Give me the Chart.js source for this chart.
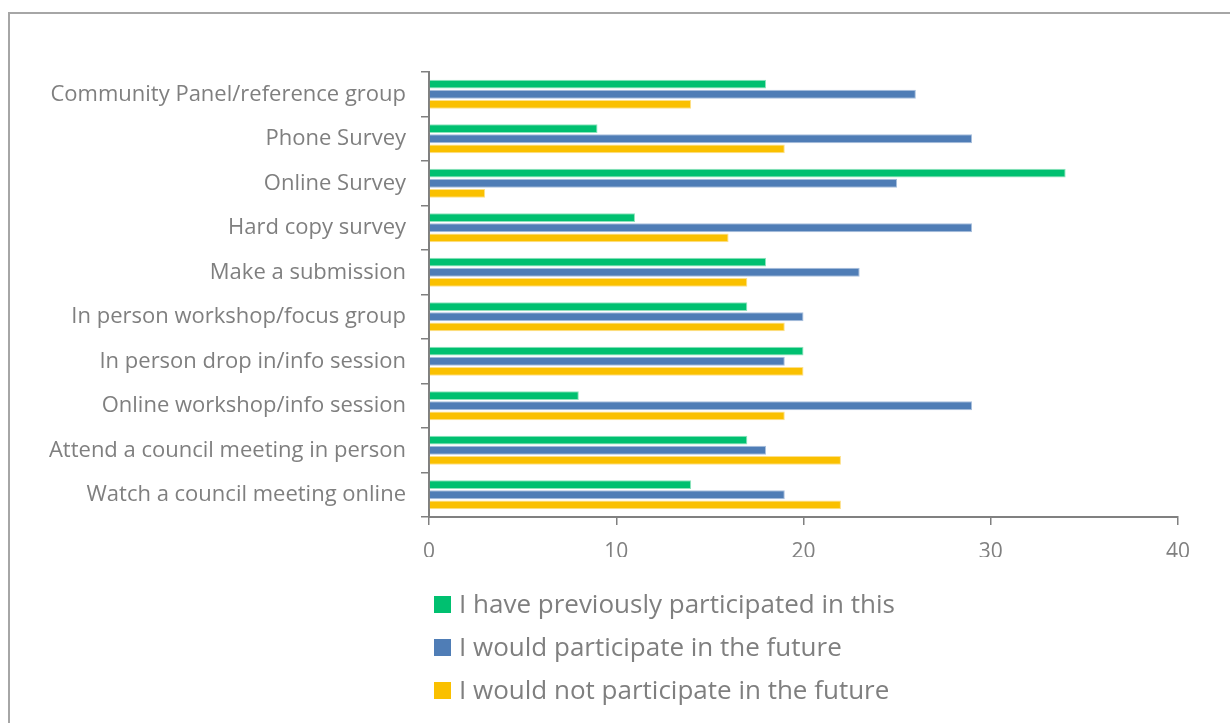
<!DOCTYPE html>
<html>
<head>
<meta charset="utf-8">
<script src="https://cdn.jsdelivr.net/npm/chart.js@4/dist/chart.umd.min.js"></script>
<style>
  html, body { margin: 0; padding: 0; background: #fff; }
  #wrap { position: relative; width: 1230px; height: 723px; overflow: hidden; }
  #frame { position: absolute; left: 8px; top: 12px; width: 1230px; height: 720px; border: 2px solid #a6a6a6; box-sizing: border-box; }
  canvas { position: absolute; left: 0; top: 0; }
  #legend { position: absolute; left: 434px; top: 583px; font-family: 'Open Sans', sans-serif; font-size: 26px; color: #7f7f7f; }
  #legend div { height: 43px; line-height: 40px; white-space: nowrap; }
  #legend span.box { display: inline-block; width: 17px; height: 17px; margin-right: 8px; vertical-align: 0px; }
</style>
</head>
<body>
<div id="wrap">
  <div id="frame"></div>
  <canvas id="chart" width="1230" height="723"></canvas>
  <div id="legend"></div>
</div>
<script>
const categories = [
  'Community Panel/reference group',
  'Phone Survey',
  'Online Survey',
  'Hard copy survey',
  'Make a submission',
  'In person workshop/focus group',
  'In person drop in/info session',
  'Online workshop/info session',
  'Attend a council meeting in person',
  'Watch a council meeting online'
];
const seriesNames = [
  'I have previously participated in this',
  'I would participate in the future',
  'I would not participate in the future'
];
const previously = [18, 9, 34, 11, 18, 17, 20, 8, 17, 14];
const wouldParticipate = [26, 29, 25, 29, 23, 20, 19, 29, 18, 19];
const wouldNot = [14, 19, 3, 16, 17, 19, 20, 19, 22, 22];
const xTicks = [0, 10, 20, 30, 40];

const colors = ['#00c070', '#4f7db6', '#fac000'];
const borders = ['#8fe3bd', '#a9c0dd', '#fde08a'];
const seriesData = [previously, wouldParticipate, wouldNot];

const ctx = document.getElementById('chart').getContext('2d');
const chart = new Chart(ctx, {
  type: 'bar',
  data: {
    labels: categories,
    datasets: seriesNames.map((name, i) => ({
      label: name,
      data: seriesData[i],
      backgroundColor: colors[i],
      borderColor: borders[i],
      borderWidth: 1,
      barPercentage: 0.87,
      categoryPercentage: 0.68
    }))
  },
  options: {
    indexAxis: 'y',
    responsive: false,
    animation: false,
    layout: { padding: { top: 72, right: 52, bottom: 166, left: 0 } },
    plugins: {
      legend: { display: false },
      tooltip: { enabled: false }
    },
    scales: {
      x: {
        min: 0,
        max: 40,
        afterBuildTicks: (s) => { s.ticks = xTicks.map(v => ({ value: v })); },
        afterFit: (s) => { s.height = 40; },
        border: { color: '#808080', width: 2 },
        grid: { drawOnChartArea: false, drawTicks: true, tickLength: 8, color: '#808080', lineWidth: 1.5 },
        ticks: { color: '#808080', padding: 14, font: { family: 'Open Sans', size: 21 } }
      },
      y: {
        afterFit: (s) => { s.width = 429; },
        border: { color: '#808080', width: 2 },
        grid: { offset: true, drawOnChartArea: false, drawTicks: true, tickLength: 8, color: '#808080', lineWidth: 1.5 },
        ticks: { color: '#7f7f7f', padding: 15, font: { family: 'Open Sans', size: 22 } }
      }
    }
  }
});

// legend, one item per line
const legend = document.getElementById('legend');
chart.data.datasets.forEach(ds => {
  const row = document.createElement('div');
  const box = document.createElement('span');
  box.className = 'box';
  box.style.background = ds.backgroundColor;
  row.appendChild(box);
  row.appendChild(document.createTextNode(ds.label));
  legend.appendChild(row);
});
</script>
</body>
</html>
